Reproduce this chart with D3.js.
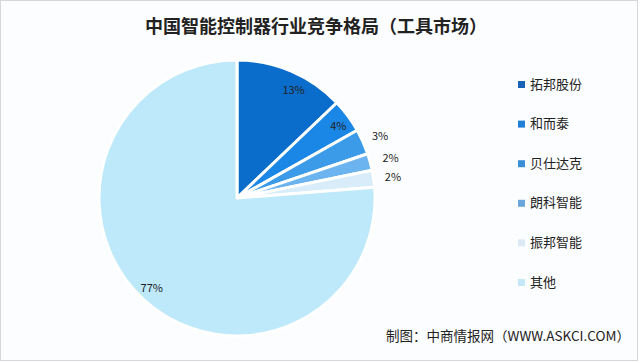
<!DOCTYPE html>
<html>
<head>
<meta charset="utf-8">
<script src="https://cdn.jsdelivr.net/npm/d3@7"></script>
<style>
  body { margin: 0; background: #fff; }
  svg { display: block; font-family: "Noto Sans CJK SC", "Noto Sans", sans-serif; }
</style>
</head>
<body>
<div id="chart"></div>
<script>
const companies = ["拓邦股份", "和而泰", "贝仕达克", "朗科智能", "振邦智能", "其他"];
const shares = [13, 4, 3, 2, 2, 77];
const colors = ["#0b6dcb", "#1a86e6", "#3b9be9", "#6cb4ef", "#d9ecfa", "#bde9fb"];
const legendColors = ["#1763b8", "#1f7fd6", "#3a8fd6", "#6aa6dc", "#dbe9f5", "#c4e8f7"];

const width = 640, height = 363;
const cx = 237, cy = 198, radius = 138;

const svg = d3.select("#chart").append("svg")
  .attr("width", width)
  .attr("height", height);

// background and frame
svg.append("rect")
  .attr("x", 0.5).attr("y", 0.5)
  .attr("width", width - 3).attr("height", height - 3)
  .attr("fill", "#fcfdfe")
  .attr("stroke", "#d4d8dd");

svg.append("text")
  .attr("x", 316).attr("y", 33)
  .attr("text-anchor", "middle")
  .attr("font-size", 18)
  .attr("font-weight", "bold")
  .attr("fill", "#222")
  .text("中国智能控制器行业竞争格局（工具市场）");

const pie = d3.pie().sort(null).value(d => d);
const arcs = pie(shares);
const arc = d3.arc().innerRadius(0).outerRadius(radius);

const g = svg.append("g").attr("transform", `translate(${cx},${cy})`);

g.selectAll("path")
  .data(arcs)
  .enter()
  .append("path")
  .attr("d", arc)
  .attr("fill", (d, i) => colors[i])
  .attr("stroke", "#fff")
  .attr("stroke-width", 3)
  .attr("stroke-linejoin", "round");

// label positions: inside for big slices, outside for small ones
const labelRadius = [0.88, 0.9, 1.13, 1.15, 1.14, 0.9];
const labelShift = [0.08, 0.02, 0.01, 0.01, 0.01, 0.01];
g.selectAll("text.lbl")
  .data(arcs)
  .enter()
  .append("text")
  .attr("class", "lbl")
  .attr("transform", (d, i) => {
    const a = (d.startAngle + d.endAngle) / 2 + labelShift[i];
    const r = radius * labelRadius[i];
    return `translate(${Math.sin(a) * r},${-Math.cos(a) * r})`;
  })
  .attr("text-anchor", "middle")
  .attr("dy", "0.35em")
  .attr("font-size", 11)
  .attr("fill", "#222")
  .text(d => d.data + "%");

// legend
const legend = svg.append("g").attr("transform", "translate(518,84)");
const item = legend.selectAll("g")
  .data(companies)
  .enter()
  .append("g")
  .attr("transform", (d, i) => `translate(0,${i * 39.6})`);

item.append("rect")
  .attr("x", 0).attr("y", -3)
  .attr("width", 7).attr("height", 7)
  .attr("fill", (d, i) => legendColors[i]);

item.append("text")
  .attr("x", 12)
  .attr("dy", "0.35em")
  .attr("font-size", 13)
  .attr("fill", "#222")
  .text(d => d);

svg.append("text")
  .attr("x", 630).attr("y", 341)
  .attr("text-anchor", "end")
  .attr("font-size", 13.5)
  .attr("fill", "#222")
  .text("制图：中商情报网（WWW.ASKCI.COM）");
</script>
</body>
</html>
